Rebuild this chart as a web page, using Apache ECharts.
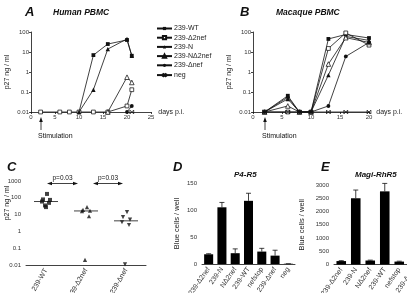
<!DOCTYPE html>
<html>
<head>
<meta charset="utf-8">
<script src="https://cdn.jsdelivr.net/npm/echarts@6/dist/echarts.min.js"></script>
<style>
html, body { margin: 0; padding: 0; background: #fff; }
#chart { width: 407px; height: 293px; }
</style>
</head>
<body>
<div id="chart"></div>
<script>
// A - Human PBMC (days p.i. / p27 ng per ml)
const aDays = [2, 6, 8, 10, 13, 16, 20, 21]
const aWT = [null, null, null, 0.01, 7, 25, 40, 6.5]
const aD2nef = [0.01, 0.01, 0.01, 0.01, 0.01, 0.01, 0.02, 0.13]
const aN = [null, null, null, 0.01, 0.13, 14, 45, 6.5]
const aND2nef = [null, null, null, null, null, 0.01, 0.55, 0.3]
const aDnef = [null, null, null, null, null, null, 0.01, 0.02]
const aNeg = [null, null, null, null, null, null, null, 0.01]

// B - Macaque PBMC
const bDays = [2, 6, 8, 10, 13, 16, 20]
const bWT = [0.01, 0.065, 0.01, 0.01, 45, 75, 50]
const bD2nef = [0.01, 0.01, 0.01, 0.01, 15, 90, 22]
const bN = [0.01, 0.045, 0.01, 0.01, 0.7, 60, 38]
const bND2nef = [0.01, 0.02, 0.01, 0.01, 2.5, 52, 30]
const bDnef = [0.01, 0.055, 0.01, 0.01, 0.02, 6, 30]
const bNeg = [0.01, 0.01, 0.01, 0.01, 0.01, 0.01, 0.01]

const seriesNames = ['239-WT', '239-\u03942nef', '239-N', '239-N\u03942nef', '239-\u0394nef', 'neg']

// C - p27 per animal
const cCats = ['239-WT', '239-\u03942nef', '239-\u0394nef']
const cWT = [170, 80, 75, 60, 50, 35, 28]
const cD2nef = [28, 19, 17, 16, 8, 0.02]
const cDnef = [14, 7, 5, 3.5, 2.4, 0.011]

// D / E - blue cells per well
const barCats = ['239-\u03942nef', '239-N', 'N\u03942nef', '239-WT', 'nefstop', '239-\u0394nef', 'neg']
const dMean = [18, 105, 20, 117, 23, 15.5, 0.5]
const dErr = [1, 9, 8, 14, 6, 10, 0]
const eMean = [130, 2500, 150, 2760, 110, 100, 5]
const eErr = [15, 310, 15, 300, 15, 20, 0]

const FONT = 'Liberation Sans'
const INK = '#111'
const sqPath = 'path://M0,0L10,0L10,10L0,10Z'
const triPath = 'path://M5,0L10,9L0,9Z'
const negPath = 'path://M0,0L10,10M10,0L0,10M0,0L0,10M10,0L10,10'
// open markers are drawn as paths with a white fill, thin outline
const symbols = ['rect', sqPath, 'triangle', triPath, 'circle', negPath]
const symSizes = [3.8, 3.8, 4.4, 4.6, 3.8, 3.8]
const fills = [INK, '#fff', INK, '#fff', INK, 'none']

const pairs = function(days, vals) {
	let out = []
	vals.forEach((v, i) => {
		if (v !== null) out.push([days[i], v])
	})
	return out
}

const lineSeries = function(idx, days, lists) {
	return lists.map((vals, k) => ({
		name: seriesNames[k],
		type: 'line',
		xAxisIndex: idx,
		yAxisIndex: idx,
		data: pairs(days, vals),
		symbol: symbols[k],
		symbolSize: symSizes[k],
		lineStyle: { color: INK, width: 0.8 },
		itemStyle: { color: fills[k], borderColor: INK, borderWidth: fills[k] === INK ? 0 : 0.75 },
		emphasis: { disabled: true },
		z: 2 + k
	}))
}

const median = function(arr) {
	let s = arr.slice().sort((a, b) => a - b)
	let m = Math.floor(s.length / 2)
	return s.length % 2 ? s[m] : (s[m - 1] + s[m]) / 2
}

const jitter = [1, -3, 4, -4, 3, -1, 0]
const cScatter = function(vals, ci, symbol, size) {
	return {
		type: 'scatter',
		xAxisIndex: 2,
		yAxisIndex: 2,
		symbol: symbol,
		symbolSize: size,
		itemStyle: { color: INK },
		data: vals.map((v, i) => ({ value: [ci, v], symbolOffset: [jitter[i % jitter.length], 0] })),
		z: 3
	}
}

const errorBars = function(idx, means, errs) {
	return {
		type: 'custom',
		xAxisIndex: idx,
		yAxisIndex: idx,
		data: means.map((m, i) => [i, m, m + errs[i]]),
		renderItem: function(params, api) {
			let base = api.coord([api.value(0), api.value(1)])
			let top = api.coord([api.value(0), api.value(2)])
			let st = { stroke: INK, lineWidth: 0.8 }
			return {
				type: 'group',
				children: [
					{ type: 'line', shape: { x1: base[0], y1: base[1], x2: top[0], y2: top[1] }, style: st },
					{ type: 'line', shape: { x1: top[0] - 2.5, y1: top[1], x2: top[0] + 2.5, y2: top[1] }, style: st }
				]
			}
		},
		z: 4
	}
}

const axisBase = {
	axisLine: { lineStyle: { color: INK, width: 0.8 } },
	axisTick: { length: 2, lineStyle: { color: INK, width: 0.8 } },
	axisLabel: { fontSize: 6, color: '#333', margin: 2, fontFamily: FONT },
	splitLine: { show: false },
	nameTextStyle: { fontSize: 7, color: '#222', fontFamily: FONT }
}
const ax = function(extra) {
	let o = JSON.parse(JSON.stringify(axisBase))
	for (let k in extra) {
		if (typeof extra[k] === 'object' && o[k] && !Array.isArray(extra[k])) Object.assign(o[k], extra[k])
		else o[k] = extra[k]
	}
	return o
}
const logFmt = function(v) {
	return String(+Number(v).toPrecision(3))
}
const plainFmt = function(v) {
	return String(v)
}

const grids = [
	{ left: 31, top: 32, width: 120, height: 80 },
	{ left: 253, top: 32, width: 116, height: 80 },
	{ left: 26, top: 181, width: 120, height: 84 },
	{ left: 202, top: 183, width: 93, height: 81 },
	{ left: 334, top: 185, width: 101.5, height: 79.5 }
].map(g => Object.assign({ outerBoundsMode: 'none', containLabel: false }, g))

const arrowV = function(x, y1, y2) {
	return {
		type: 'group',
		children: [
			{ type: 'line', shape: { x1: x, y1: y2, x2: x, y2: y1 + 3 }, style: { stroke: INK, lineWidth: 0.8 } },
			{ type: 'polygon', shape: { points: [[x, y1], [x - 1.8, y1 + 5], [x + 1.8, y1 + 5]] }, style: { fill: INK } }
		]
	}
}
const arrowH = function(x1, x2, y) {
	return {
		type: 'group',
		children: [
			{ type: 'line', shape: { x1: x1 + 3, y1: y, x2: x2 - 3, y2: y }, style: { stroke: INK, lineWidth: 0.8 } },
			{ type: 'polygon', shape: { points: [[x1, y], [x1 + 5, y - 1.8], [x1 + 5, y + 1.8]] }, style: { fill: INK } },
			{ type: 'polygon', shape: { points: [[x2, y], [x2 - 5, y - 1.8], [x2 - 5, y + 1.8]] }, style: { fill: INK } }
		]
	}
}
const label = function(x, y, text, font, align, rot) {
	return {
		type: 'text', x: x, y: y, rotation: rot || 0,
		style: { text: text, font: font, fill: '#111', align: align || 'left', verticalAlign: 'middle' }
	}
}
const bigFont = 'italic bold 13px "' + FONT + '"'
const subFont = 'italic bold 8.5px "' + FONT + '"'
const smallFont = '7px "' + FONT + '"'
const pFont = '6.5px "' + FONT + '"'

const option = {
	animation: false,
	backgroundColor: '#fff',
	textStyle: { fontFamily: FONT },
	grid: grids,
	legend: {
		orient: 'vertical',
		left: 156,
		top: 25,
		itemWidth: 15,
		itemHeight: 4,
		itemGap: 2.2,
		padding: 0,
		selectedMode: false,
		data: seriesNames,
		textStyle: { fontSize: 7, color: '#222', fontFamily: FONT, padding: [0, 0, 0, -3] }
	},
	xAxis: [
		ax({ gridIndex: 0, type: 'value', min: 0, max: 25, interval: 5, name: 'days p.i.', nameLocation: 'end', nameGap: 4,
			nameTextStyle: { align: 'left', verticalAlign: 'middle', padding: [5, 0, 0, 0] } }),
		ax({ gridIndex: 1, type: 'value', min: 0, max: 20, interval: 5, name: 'days p.i.', nameLocation: 'end', nameGap: 4,
			nameTextStyle: { align: 'left', verticalAlign: 'middle', padding: [5, 0, 0, 0] } }),
		ax({ gridIndex: 2, type: 'category', data: cCats, axisTick: { show: false },
			axisLabel: { rotate: 60, fontSize: 7, margin: 4 } }),
		ax({ gridIndex: 3, type: 'category', data: barCats, axisTick: { show: false },
			axisLabel: { rotate: 55, fontSize: 7, margin: 4, interval: 0 } }),
		ax({ gridIndex: 4, type: 'category', data: barCats, axisTick: { show: false },
			axisLabel: { rotate: 55, fontSize: 7, margin: 4, interval: 0 } })
	],
	yAxis: [
		ax({ gridIndex: 0, type: 'log', logBase: 10, min: 0.01, max: 100, name: 'p27 ng / ml', nameLocation: 'middle', nameGap: 20,
			axisLabel: { formatter: logFmt }, minorTick: { show: false } }),
		ax({ gridIndex: 1, type: 'log', logBase: 10, min: 0.01, max: 100, name: 'p27 ng / ml', nameLocation: 'middle', nameGap: 20,
			axisLabel: { formatter: logFmt }, minorTick: { show: false } }),
		ax({ gridIndex: 2, type: 'log', logBase: 10, min: 0.01, max: 1000, offset: 3,
			axisLabel: { formatter: logFmt }, minorTick: { show: false } }),
		ax({ gridIndex: 3, type: 'value', min: 0, max: 150, interval: 50, offset: 3, name: 'Blue cells / well',
			nameLocation: 'middle', nameGap: 18, nameTextStyle: { fontSize: 7.5 }, axisLabel: { formatter: plainFmt } }),
		ax({ gridIndex: 4, type: 'value', min: 0, max: 3000, interval: 500, offset: 3, name: 'Blue cells / well',
			nameLocation: 'middle', nameGap: 25, nameTextStyle: { fontSize: 7.5 }, axisLabel: { formatter: plainFmt } })
	],
	series: [].concat(
		lineSeries(0, aDays, [aWT, aD2nef, aN, aND2nef, aDnef, aNeg]),
		lineSeries(1, bDays, [bWT, bD2nef, bN, bND2nef, bDnef, bNeg]),
		[
			cScatter(cWT, 0, 'rect', 4),
			cScatter(cD2nef, 1, 'triangle', 4.2),
			cScatter(cDnef, 2, 'path://M0,0L10,0L5,9Z', 4.2),
			{
				type: 'custom',
				xAxisIndex: 2,
				yAxisIndex: 2,
				data: [cWT, cD2nef, cDnef].map((arr, i) => [i, median(arr)]),
				renderItem: function(params, api) {
					let p = api.coord([api.value(0), api.value(1)])
					return { type: 'line', shape: { x1: p[0] - 12, y1: p[1], x2: p[0] + 12, y2: p[1] },
						style: { stroke: INK, lineWidth: 0.8 } }
				},
				z: 2
			},
			{ type: 'bar', xAxisIndex: 3, yAxisIndex: 3, data: dMean, barWidth: '68%', itemStyle: { color: '#000' }, z: 2 },
			errorBars(3, dMean, dErr),
			{ type: 'bar', xAxisIndex: 4, yAxisIndex: 4, data: eMean, barWidth: '66%', itemStyle: { color: '#000' }, z: 2 },
			errorBars(4, eMean, eErr)
		]
	),
	graphic: [
		label(25, 12.5, 'A', bigFont),
		label(53, 13, 'Human PBMC', subFont),
		label(240, 12.5, 'B', bigFont),
		label(276, 13, 'Macaque PBMC', subFont),
		label(7, 167, 'C', bigFont),
		label(173, 167, 'D', bigFont),
		label(234, 175, 'P4-R5', 'italic bold 8px "' + FONT + '"'),
		label(321, 167, 'E', bigFont),
		label(355, 175, 'Magi-RhR5', 'italic bold 8px "' + FONT + '"'),
		arrowV(41, 117, 130),
		label(38, 136, 'Stimulation', smallFont),
		arrowV(265, 117, 130),
		label(262, 136, 'Stimulation', smallFont),
		arrowH(47, 78, 183.5),
		arrowH(93, 123, 183.5),
		label(62.5, 178.5, 'p=0.03', pFont, 'center'),
		label(108, 178.5, 'p=0.03', pFont, 'center'),
		label(7, 203, 'p27 ng / ml', smallFont, 'center', Math.PI / 2)
	]
}

const chart = echarts.init(document.getElementById('chart'), null, { renderer: 'canvas' })
chart.setOption(option)
</script>
</body>
</html>
